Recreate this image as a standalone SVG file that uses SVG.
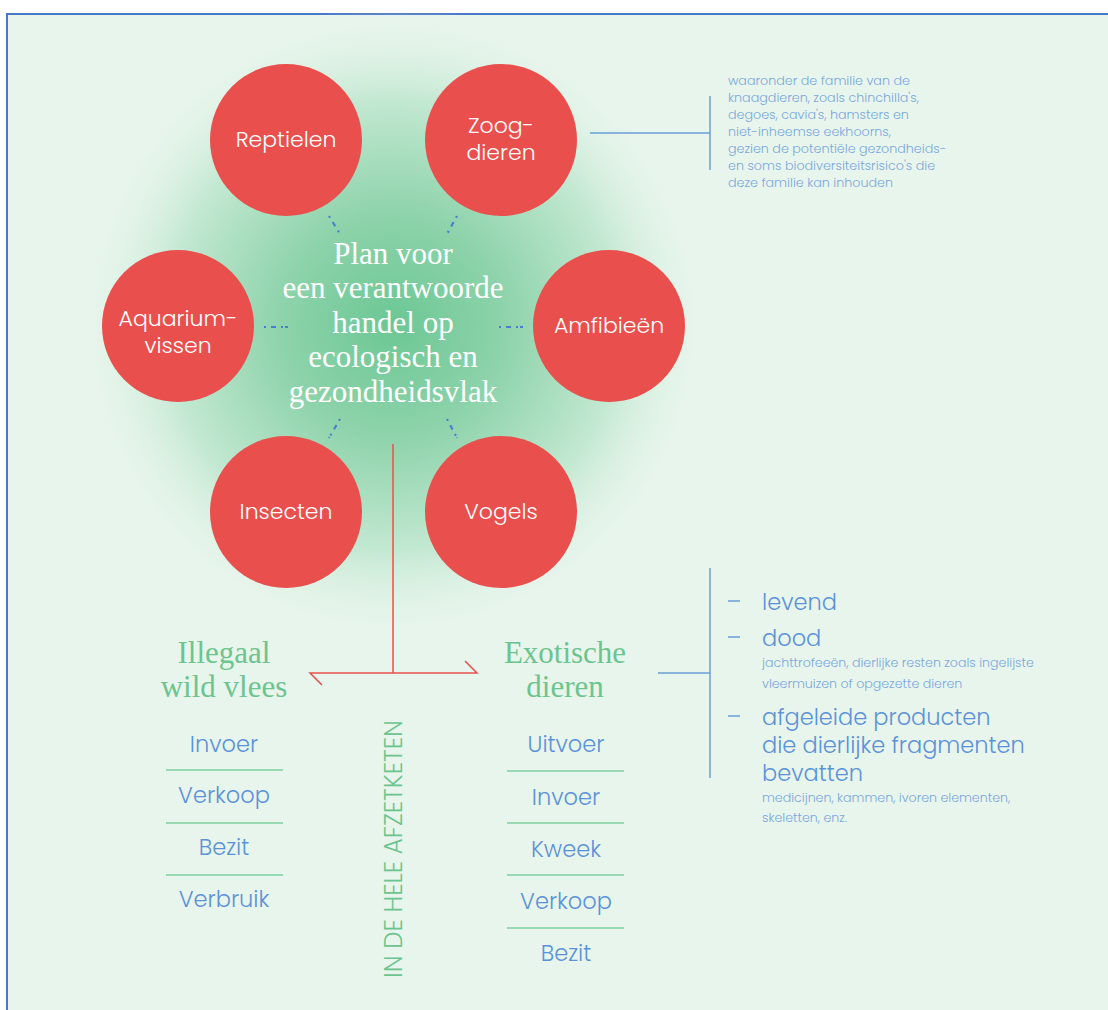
<svg xmlns="http://www.w3.org/2000/svg" width="1108" height="1010" viewBox="0 0 1108 1010">
<defs>
<radialGradient id="glow" cx="393" cy="325" r="320" gradientUnits="userSpaceOnUse">
<stop offset="0" stop-color="#6cc794"/>
<stop offset="0.35" stop-color="#8ed3ab"/>
<stop offset="0.7" stop-color="#c2e8d1"/>
<stop offset="1" stop-color="#e8f5ec" stop-opacity="0"/>
</radialGradient>
<style>
.circ{fill:#e9504d}
.ct{font-family:Poppins,Inter,"Open Sans",sans-serif;font-weight:300;font-size:22px;fill:#ffffff;text-anchor:middle}
.title{font-family:"Liberation Serif","DejaVu Serif",serif;font-size:31px;fill:#ffffff;text-anchor:middle}
.head{font-family:"Liberation Serif","DejaVu Serif",serif;font-size:31px;fill:#6cc48e;text-anchor:middle}
.item{font-family:Poppins,Inter,"Open Sans",sans-serif;font-weight:300;font-size:22.5px;fill:#5b92d8;text-anchor:middle}
.big{font-family:Poppins,Inter,"Open Sans",sans-serif;font-weight:300;font-size:22.5px;fill:#5b92d8}
.small{font-family:Poppins,Inter,"Open Sans",sans-serif;font-weight:300;font-size:12.6px;fill:#7aa8de}
.note{font-family:Poppins,Inter,"Open Sans",sans-serif;font-weight:300;font-size:12.7px;fill:#7aa8de}
.sep{stroke:#7fcf9f;stroke-width:1.5}
.dot{stroke:#4a7fd0;stroke-width:2.2;fill:none;stroke-dasharray:2 5 5 5 2}
.red{stroke:#e9504d;stroke-width:1.5;fill:none}
.blue{stroke:#6a9ed8;stroke-width:1.5;fill:none}
.vert{font-family:Poppins,Inter,"Open Sans",sans-serif;font-weight:300;font-size:24.5px;fill:#6cc48e;text-anchor:middle}
</style>
</defs>
<rect x="0" y="0" width="1108" height="1010" fill="#ffffff"/>
<rect x="7" y="14" width="1120" height="1010" fill="#e8f5ec" stroke="#4a78c8" stroke-width="2"/>
<ellipse cx="393" cy="325" rx="330" ry="320" fill="url(#glow)"/>

<g id="connectors">
<line class="dot" x1="329" y1="216" x2="340" y2="234"/>
<line class="dot" x1="457" y1="216" x2="447" y2="234"/>
<line class="dot" x1="264" y1="327" x2="288" y2="327"/>
<line class="dot" x1="499" y1="327" x2="523" y2="327"/>
<line class="dot" x1="340" y1="419" x2="329" y2="438"/>
<line class="dot" x1="447" y1="419" x2="457" y2="438"/>
<line class="red" x1="393" y1="444" x2="393" y2="673"/>
<polyline class="red" points="322,685 310,673 477,673 465,661"/>
<line class="blue" x1="658" y1="673" x2="710" y2="673"/>
<line class="blue" x1="710" y1="568" x2="710" y2="778"/>
<line class="blue" x1="590" y1="133" x2="710" y2="133"/>
<line class="blue" x1="710" y1="96" x2="710" y2="170"/>
</g>

<g id="reptielen"><circle class="circ" cx="286" cy="140" r="76"/><text class="ct" x="286" y="147">Reptielen</text></g>
<g id="zoogdieren"><circle class="circ" cx="501" cy="140" r="76"/><text class="ct" x="501" y="133">Zoog-</text><text class="ct" x="501" y="160">dieren</text></g>
<g id="aquariumvissen"><circle class="circ" cx="178" cy="326" r="76"/><text class="ct" x="178" y="326">Aquarium-</text><text class="ct" x="178" y="353">vissen</text></g>
<g id="amfibieen"><circle class="circ" cx="609" cy="326" r="76"/><text class="ct" x="609" y="333">Amfibieën</text></g>
<g id="insecten"><circle class="circ" cx="286" cy="512" r="76"/><text class="ct" x="286" y="519">Insecten</text></g>
<g id="vogels"><circle class="circ" cx="501" cy="512" r="76"/><text class="ct" x="501" y="519">Vogels</text></g>

<g id="title">
<text class="title" x="393" y="264">Plan voor</text>
<text class="title" x="393" y="298">een verantwoorde</text>
<text class="title" x="393" y="333">handel op</text>
<text class="title" x="393" y="367">ecologisch en</text>
<text class="title" x="393" y="402">gezondheidsvlak</text>
</g>

<g id="note-zoogdieren">
<text class="note" x="728" y="85">waaronder de familie van de</text>
<text class="note" x="728" y="102">knaagdieren, zoals chinchilla's,</text>
<text class="note" x="728" y="119">degoes, cavia's, hamsters en</text>
<text class="note" x="728" y="136">niet-inheemse eekhoorns,</text>
<text class="note" x="728" y="153">gezien de potentiële gezondheids-</text>
<text class="note" x="728" y="170">en soms biodiversiteitsrisico's die</text>
<text class="note" x="728" y="187">deze familie kan inhouden</text>
</g>

<g id="illegaal">
<text class="head" x="224" y="663">Illegaal</text>
<text class="head" x="224" y="697">wild vlees</text>
<text class="item" x="224" y="752">Invoer</text>
<line class="sep" x1="166" y1="770" x2="283" y2="770"/>
<text class="item" x="224" y="803">Verkoop</text>
<line class="sep" x1="166" y1="823" x2="283" y2="823"/>
<text class="item" x="224" y="855">Bezit</text>
<line class="sep" x1="166" y1="875" x2="283" y2="875"/>
<text class="item" x="224" y="907">Verbruik</text>
</g>

<g id="exotische">
<text class="head" x="565" y="663">Exotische</text>
<text class="head" x="565" y="697">dieren</text>
<text class="item" x="566" y="752">Uitvoer</text>
<line class="sep" x1="507" y1="771" x2="624" y2="771"/>
<text class="item" x="566" y="805">Invoer</text>
<line class="sep" x1="507" y1="823" x2="624" y2="823"/>
<text class="item" x="566" y="857">Kweek</text>
<line class="sep" x1="507" y1="875" x2="624" y2="875"/>
<text class="item" x="566" y="909">Verkoop</text>
<line class="sep" x1="507" y1="928" x2="624" y2="928"/>
<text class="item" x="566" y="961">Bezit</text>
</g>

<g id="afzetketen">
<text class="vert" transform="translate(402,849) rotate(-90)">IN DE HELE AFZETKETEN</text>
</g>

<g id="types">
<line class="blue" x1="728" y1="601" x2="740" y2="601"/>
<text class="big" x="762" y="610">levend</text>
<line class="blue" x1="728" y1="637" x2="740" y2="637"/>
<text class="big" x="762" y="646">dood</text>
<text class="small" x="762" y="667">jachttrofeeën, dierlijke resten zoals ingelijste</text>
<text class="small" x="762" y="688">vleermuizen of opgezette dieren</text>
<line class="blue" x1="728" y1="716" x2="740" y2="716"/>
<text class="big" x="762" y="725">afgeleide producten</text>
<text class="big" x="762" y="753">die dierlijke fragmenten</text>
<text class="big" x="762" y="781">bevatten</text>
<text class="small" x="762" y="802">medicijnen, kammen, ivoren elementen,</text>
<text class="small" x="762" y="822">skeletten, enz.</text>
</g>
</svg>
